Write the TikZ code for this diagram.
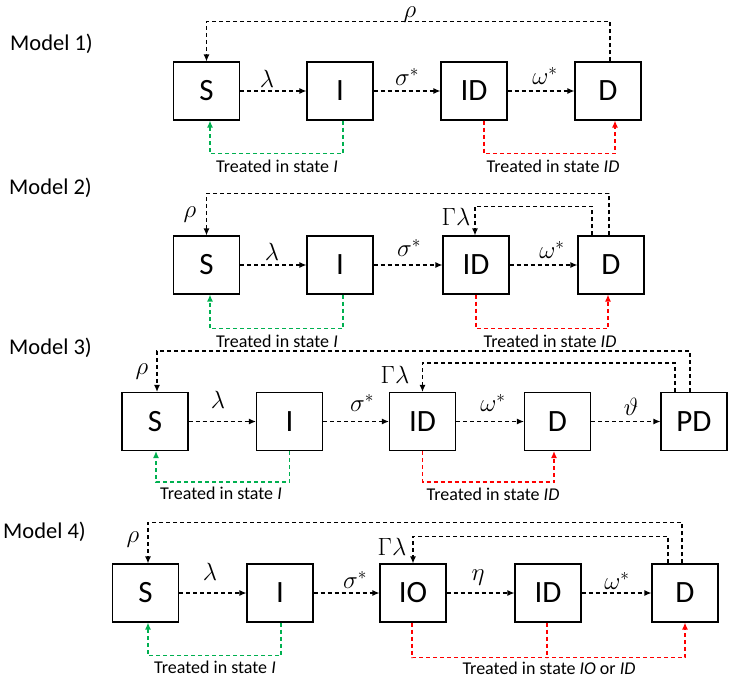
\documentclass[tikz,border=0pt]{standalone}
\usepackage{fontspec}
\setmainfont{Carlito}
\usetikzlibrary{arrows.meta,calc}
\definecolor{tgreen}{RGB}{0,176,80}
\definecolor{tred}{RGB}{255,0,0}
\begin{document}
\begin{tikzpicture}[x=1pt,y=-1pt,
  box/.style={draw,line width=1.1pt,minimum width=66pt,minimum height=58pt,inner sep=0pt,font=\fontsize{31}{31}\selectfont},
  flow/.style={line width=1.2pt,dash pattern=on 4pt off 3pt,-{Latex[length=7pt,width=6pt]}},
  gflow/.style={flow,color=tgreen},
  rflow/.style={flow,color=tred},
  rline/.style={line width=1.2pt,dash pattern=on 4pt off 3pt,color=tred},
  lab/.style={font=\fontsize{18}{18}\selectfont,inner sep=0pt},
  gk/.style={font=\fontsize{26}{26}\selectfont,inner sep=0pt},
  title/.style={font=\fontsize{22.5}{22.5}\selectfont,inner sep=0pt,anchor=west}]
\useasboundingbox (0,0) rectangle (730,678);

% ---------------- Model 1 ----------------
\node[title] (m1) at (10,44) {Model 1)};
\node[box] (S1) at (206.5,91) {S};
\node[box] (I1) at (340,91) {I};
\node[box] (ID1) at (474,91) {ID};
\node[box] (D1) at (608,91) {D};
\draw[flow] (S1) -- (I1);
\draw[flow] (I1) -- (ID1);
\draw[flow] (ID1) -- (D1);
\draw[flow] ([xshift=2pt]D1.north) -- ++(0,-40) -| (S1.north);
\node[gk] (rho1) at (410,15) {$\rho$};
\node[gk] (l1) at (267,79) {$\lambda$};
\node[gk] (s1) at (407,77) {$\sigma^{*}$};
\node[gk] (w1) at (545,76) {$\omega^{*}$};
\draw[gflow] ([xshift=3pt]I1.south) -- ++(0,33) -| ([xshift=3.5pt]S1.south);
\draw[rflow] ([xshift=10pt]ID1.south) -- ++(0,33) -| ([xshift=7pt]D1.south);
\node[lab] (t1a) at (277,166) {Treated in state \textit{I}};
\node[lab] (t1b) at (553,166) {Treated in state \textit{ID}};

% ---------------- Model 2 ----------------
\node[title] (m2) at (9,188) {Model 2)};
\node[box] (S2) at (206.5,265) {S};
\node[box] (I2) at (340,265) {I};
\node[box] (ID2) at (476,265) {ID};
\node[box] (D2) at (611,265) {D};
\draw[flow] (S2) -- (I2);
\draw[flow] (I2) -- (ID2);
\draw[flow] (ID2) -- (D2);
\draw[flow] ([xshift=-2pt]D2.north) -- ++(0,-42) -| (S2.north);
\draw[flow] ([xshift=-19pt]D2.north) -- ++(0,-29) -| ([xshift=-1pt]ID2.north);
\node[gk] (rho2) at (190,215) {$\rho$};
\node[gk] (gl2) at (456,217) {$\Gamma\lambda$};
\node[gk] (l2) at (272,252) {$\lambda$};
\node[gk] (s2) at (409,248) {$\sigma^{*}$};
\node[gk] (w2) at (552,250) {$\omega^{*}$};
\draw[gflow] ([xshift=3pt]I2.south) -- ++(0,34) -| ([xshift=3.5pt]S2.south);
\draw[rflow] (ID2.south) -- ++(0,34) -| ([xshift=-3pt]D2.south);
\node[lab] (t2a) at (277,341) {Treated in state \textit{I}};
\node[lab] (t2b) at (550,341) {Treated in state \textit{ID}};

% ---------------- Model 3 ----------------
\node[title] (m3) at (9,348) {Model 3)};
\node[box] (S3) at (155,421.5) {S};
\node[box] (I3) at (289.5,421.5) {I};
\node[box] (ID3) at (422.5,421.5) {ID};
\node[box] (D3) at (557.5,421.5) {D};
\node[box] (PD3) at (694,421.5) {PD};
\draw[flow] (S3) -- (I3);
\draw[flow] (I3) -- (ID3);
\draw[flow] (ID3) -- (D3);
\draw[flow] (D3) -- (PD3);
\draw[flow] ([xshift=-4pt]PD3.north) -- ++(0,-41) -| ([xshift=2pt]S3.north);
\draw[flow] ([xshift=-19pt]PD3.north) -- ++(0,-29) -| (ID3.north);
\node[gk] (rho3) at (142,372) {$\rho$};
\node[gk] (gl3) at (395,375) {$\Gamma\lambda$};
\node[gk] (l3) at (218,400) {$\lambda$};
\node[gk] (s3) at (362,403) {$\sigma^{*}$};
\node[gk] (w3) at (493,403) {$\omega^{*}$};
\node[gk] (v3) at (631,407) {$\vartheta$};
\draw[gflow] (I3.south) -- ++(0,31) -| ([xshift=1pt]S3.south);
\draw[rflow] (ID3.south) -- ++(0,31) -| ([xshift=-3.5pt]D3.south);
\node[lab] (t3a) at (221,493) {Treated in state \textit{I}};
\node[lab] (t3b) at (493,494) {Treated in state \textit{ID}};

% ---------------- Model 4 ----------------
\node[title] (m4) at (3,532) {Model 4)};
\node[box] (S4) at (145.5,593) {S};
\node[box] (I4) at (280,593) {I};
\node[box] (IO4) at (413,593) {IO};
\node[box] (ID4) at (548,593) {ID};
\node[box] (D4) at (685,593) {D};
\draw[flow] (S4) -- (I4);
\draw[flow] (I4) -- (IO4);
\draw[flow] (IO4) -- (ID4);
\draw[flow] (ID4) -- (D4);
\draw[flow] ([xshift=-3pt]D4.north) -- ++(0,-41) -| ([xshift=2.5pt]S4.north);
\draw[flow] ([xshift=-17pt]D4.north) -- ++(0,-27) -| (IO4.north);
\node[gk] (rho4) at (133,540) {$\rho$};
\node[gk] (gl4) at (392,547) {$\Gamma\lambda$};
\node[gk] (l4) at (210,572) {$\lambda$};
\node[gk] (s4) at (355,580) {$\sigma^{*}$};
\node[gk] (e4) at (478,578) {$\eta$};
\node[gk] (w4) at (617,581) {$\omega^{*}$};
\draw[gflow] ([xshift=1pt]I4.south) -- ++(0,33) -| ([xshift=2.5pt]S4.south);
\draw[rflow] ([xshift=-1pt]IO4.south) -- ++(0,35) -| (D4.south);
\draw[rline] ([xshift=-1pt]ID4.south) -- ++(0,35);
\node[lab] (t4a) at (215,667) {Treated in state \textit{I}};
\node[lab] (t4b) at (549,668) {Treated in state \textit{IO} or \textit{ID}};
\end{tikzpicture}
\end{document}
